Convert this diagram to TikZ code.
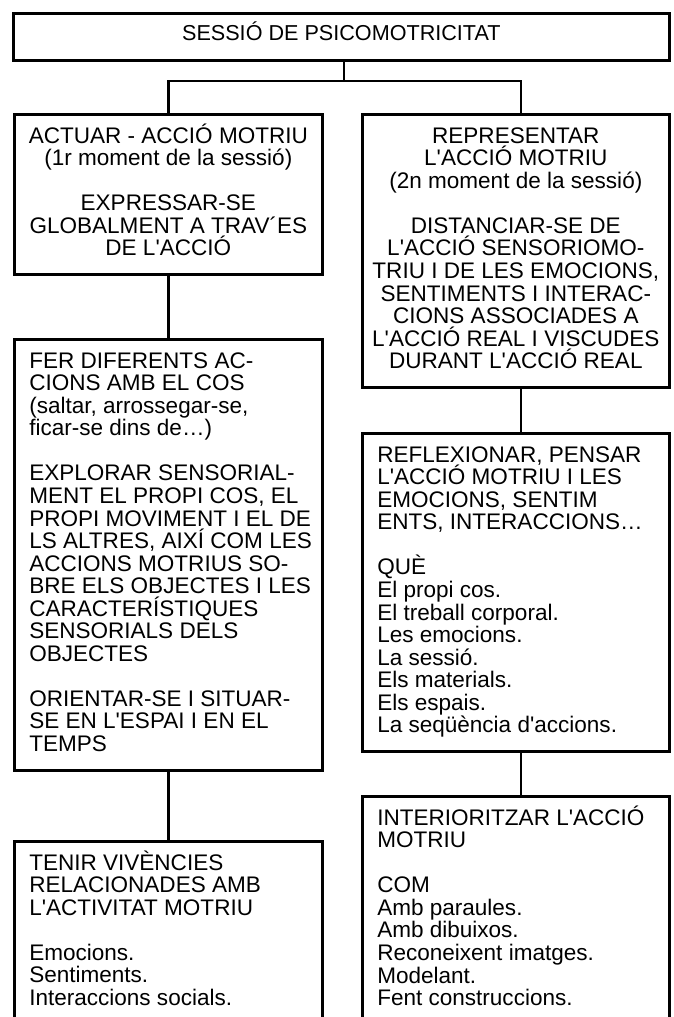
\documentclass[tikz,border=0pt]{standalone}
\usepackage{fontspec}
\setmainfont{Liberation Sans}[Ligatures=TeXOff]
\usetikzlibrary{positioning}

\begin{document}
\begin{tikzpicture}[x=0.75pt,y=-0.75pt,
    box/.style={draw,line width=2pt,inner sep=0pt,anchor=north west},
    wire/.style={line width=1.8pt},
    txt/.style={inner sep=0pt,font=\fontsize{16.9pt}{16.9pt}\selectfont}]
        %% Page
        \useasboundingbox (0,0) rectangle (674,1017);
        \clip (0,0) rectangle (674,1017);
        %% Title
        \node[box,minimum width=492pt,minimum height=35.25pt] (sessio) at (12,12) {};
        \node[txt,font=\fontsize{16.2pt}{16.9pt}\selectfont,below=5.5pt of sessio.north] (sessio-t) {\rule{0pt}{16pt}SESSIÓ DE PSICOMOTRICITAT};
        %% Left column
        \node[box,minimum width=231pt,minimum height=120pt] (actuar) at (13,113) {};
        \node[txt,align=center,below=6.5pt of actuar.north] (actuar-t) {\rule{0pt}{16pt}ACTUAR - ACCIÓ MOTRIU\\(1r moment de la sessió)\\[16.9pt]EXPRESSAR-SE\\GLOBALMENT A TRAV´ES\\DE L'ACCIÓ};
        \node[box,minimum width=231pt,minimum height=323.25pt] (accions) at (13,338) {};
        \node[txt,align=left,below right=6.5pt and 12pt of accions.north west] (accions-t) {\rule{0pt}{16pt}FER DIFERENTS AC-\\CIONS AMB EL COS\\(saltar, arrossegar-se,\\ficar-se dins de…)\\[16.9pt]EXPLORAR SENSORIAL-\\MENT EL PROPI COS, EL\\PROPI MOVIMENT I EL DE\\LS ALTRES, AIXÍ COM LES\\ACCIONS MOTRIUS SO-\\BRE ELS OBJECTES I LES\\CARACTERÍSTIQUES\\SENSORIALS DELS\\OBJECTES\\[16.9pt]ORIENTAR-SE I SITUAR-\\SE EN L'ESPAI I EN EL\\TEMPS};
        \node[box,minimum width=231pt,minimum height=150pt] (vivencies) at (13,840) {};
        \node[txt,align=left,below right=6.5pt and 12pt of vivencies.north west] (vivencies-t) {\rule{0pt}{16pt}TENIR VIVÈNCIES\\RELACIONADES AMB\\L'ACTIVITAT MOTRIU\\[16.9pt]Emocions.\\Sentiments.\\Interaccions socials.};
        %% Right column
        \node[box,minimum width=230.25pt,minimum height=204.75pt] (representar) at (361,113) {};
        \node[txt,align=center,below=6.5pt of representar.north] (representar-t) {\rule{0pt}{16pt}REPRESENTAR\\L'ACCIÓ MOTRIU\\(2n moment de la sessió)\\[16.9pt]DISTANCIAR-SE DE\\L'ACCIÓ SENSORIOMO-\\TRIU I DE LES EMOCIONS,\\SENTIMENTS I INTERAC-\\CIONS ASSOCIADES A\\L'ACCIÓ REAL I VISCUDES\\DURANT L'ACCIÓ REAL};
        \node[box,minimum width=230.25pt,minimum height=238.5pt] (reflexionar) at (361,432) {};
        \node[txt,align=left,below right=6.5pt and 12pt of reflexionar.north west] (reflexionar-t) {\rule{0pt}{16pt}REFLEXIONAR, PENSAR\\L'ACCIÓ MOTRIU I LES\\EMOCIONS, SENTIM\\ENTS, INTERACCIONS…\\[16.9pt]QUÈ\\El propi cos.\\El treball corporal.\\Les emocions.\\La sessió.\\Els materials.\\Els espais.\\La seqüència d'accions.};
        \node[box,minimum width=230.25pt,minimum height=183.75pt] (interioritzar) at (361,795) {};
        \node[txt,align=left,below right=6.5pt and 12pt of interioritzar.north west] (interioritzar-t) {\rule{0pt}{16pt}INTERIORITZAR L'ACCIÓ\\MOTRIU\\[16.9pt]COM\\Amb paraules.\\Amb dibuixos.\\Reconeixent imatges.\\Modelant.\\Fent construccions.};
        %% Connectors
        \coordinate (split) at (344,81);
        \draw[wire] (sessio.south -| split) -- (split);
        \draw[wire] (actuar.north) |- (split) -| ([xshift=4pt]representar.north);
        \draw[wire] (actuar.south) -- (accions.north);
        \draw[wire] (accions.south) -- (vivencies.north);
        \draw[wire] ([xshift=4pt]representar.south) -- ([xshift=4pt]reflexionar.north);
        \draw[wire] ([xshift=4pt]reflexionar.south) -- ([xshift=4pt]interioritzar.north);
\end{tikzpicture}
\end{document}
